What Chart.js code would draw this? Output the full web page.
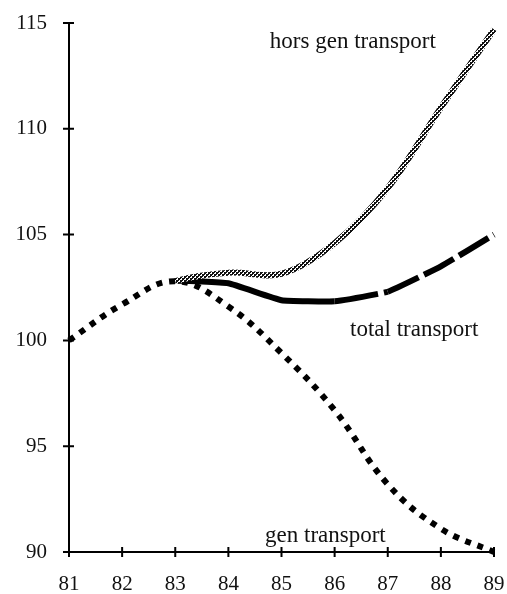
<!DOCTYPE html>
<html>
<head>
<meta charset="utf-8">
<script src="https://cdn.jsdelivr.net/npm/chart.js@4/dist/chart.umd.min.js"></script>
<style>
  html, body { margin: 0; padding: 0; background: #fff; }
  #wrap { width: 507px; height: 594px; }
</style>
</head>
<body>
<div id="wrap"><canvas id="linechart"></canvas></div>
<script>
// years on the x axis
const years = [81, 82, 83, 84, 85, 86, 87, 88, 89];
const horsGen = [100, 101.7, 102.8, 103.2, 103.15, 104.6, 107.2, 111.0, 114.7];
const total = [100, 101.7, 102.8, 102.7, 101.9, 101.85, 102.3, 103.5, 105.0];
const gen = [100, 101.7, 102.8, 101.6, 99.4, 96.7, 93.2, 91.1, 90.0];
const yTicks = [90, 95, 100, 105, 110, 115];

// curve names written next to the lines: [text, x, y]
const curveLabels = [
  ["hors gen transport", 84.78, 114.1],
  ["total transport", 86.29, 100.5],
  ["gen transport", 84.69, 90.75],
];

const serif = "'Liberation Serif', 'DejaVu Serif', serif";

// checkered pattern for the grey hatched line
function makePattern() {
  const c = document.createElement("canvas");
  c.width = 4;
  c.height = 4;
  const g = c.getContext("2d");
  g.fillStyle = "#fff";
  g.fillRect(0, 0, 4, 4);
  g.fillStyle = "#111";
  g.fillRect(0, 0, 2, 2);
  g.fillRect(2, 2, 2, 2);
  g.fillRect(2, 0, 1, 1);
  g.fillRect(0, 2, 1, 1);
  return g.createPattern(c, "repeat");
}
const hatch = makePattern();

const toPts = (arr) => arr.map((v, i) => ({ x: years[i], y: v }));

// crossing tick marks and text labels
const extras = {
  id: "extras",
  afterDraw(chart) {
    const ctx = chart.ctx;
    const xs = chart.scales.x;
    const ys = chart.scales.y;
    const x0 = xs.getPixelForValue(81);
    const y0 = ys.getPixelForValue(90);
    ctx.save();
    ctx.strokeStyle = "#000";
    ctx.lineWidth = 2;
    ctx.beginPath();
    years.forEach((yr) => {
      const px = xs.getPixelForValue(yr);
      ctx.moveTo(px, y0 - 5);
      ctx.lineTo(px, y0 + 5);
    });
    yTicks.forEach((t) => {
      const py = ys.getPixelForValue(t);
      ctx.moveTo(x0 - 6, py);
      ctx.lineTo(x0 + 5, py);
    });
    ctx.stroke();

    ctx.fillStyle = "#111";
    ctx.font = "23px " + serif;
    ctx.textBaseline = "middle";
    curveLabels.forEach(([txt, x, y]) => {
      ctx.fillText(txt, xs.getPixelForValue(x), ys.getPixelForValue(y));
    });
    ctx.restore();
  },
};

new Chart(document.getElementById("linechart"), {
  type: "line",
  data: {
    datasets: [
      {
        label: "hors gen transport",
        data: toPts(horsGen),
        borderColor: hatch,
        borderWidth: 6,
        tension: 0.35,
        pointRadius: 0,
        clip: false,
        segment: {
          borderColor: (c) => (c.p1DataIndex <= 2 ? "rgba(0,0,0,0)" : hatch),
        },
      },
      {
        label: "total transport",
        data: toPts(total),
        borderColor: "#000",
        borderWidth: 6,
        tension: 0.1,
        pointRadius: 0,
        clip: false,
        segment: {
          borderColor: (c) => (c.p1DataIndex <= 2 ? "rgba(0,0,0,0)" : "#000"),
          borderDash: (c) => (c.p1DataIndex >= 7 ? [34, 6] : c.p1DataIndex === 6 ? [44, 6] : undefined),
        },
      },
      {
        label: "gen transport",
        data: toPts(gen),
        borderColor: "#000",
        borderWidth: 6,
        borderDash: [6, 7],
        tension: 0.4,
        pointRadius: 0,
        clip: false,
      },
    ],
  },
  options: {
    responsive: true,
    maintainAspectRatio: false,
    animation: false,
    layout: { padding: { top: 23, right: 13, left: 0, bottom: 0 } },
    plugins: { legend: { display: false }, tooltip: { enabled: false } },
    scales: {
      x: {
        type: "linear",
        min: 81,
        max: 89,
        grid: { display: false },
        border: { display: true, color: "#000", width: 2 },
        afterFit: (s) => {
          s.height = 42;
          s.paddingLeft = 0;
          s.paddingRight = 0;
        },
        ticks: {
          stepSize: 1,
          padding: 12,
          color: "#111",
          font: { family: serif, size: 21 },
        },
      },
      y: {
        min: 90,
        max: 115,
        grid: { display: false },
        border: { display: true, color: "#000", width: 2 },
        afterFit: (s) => {
          s.width = 69;
          s.paddingTop = 0;
          s.paddingBottom = 0;
        },
        ticks: {
          stepSize: 5,
          padding: 14,
          color: "#111",
          font: { family: serif, size: 21 },
        },
      },
    },
  },
  plugins: [extras],
});
</script>
</body>
</html>
